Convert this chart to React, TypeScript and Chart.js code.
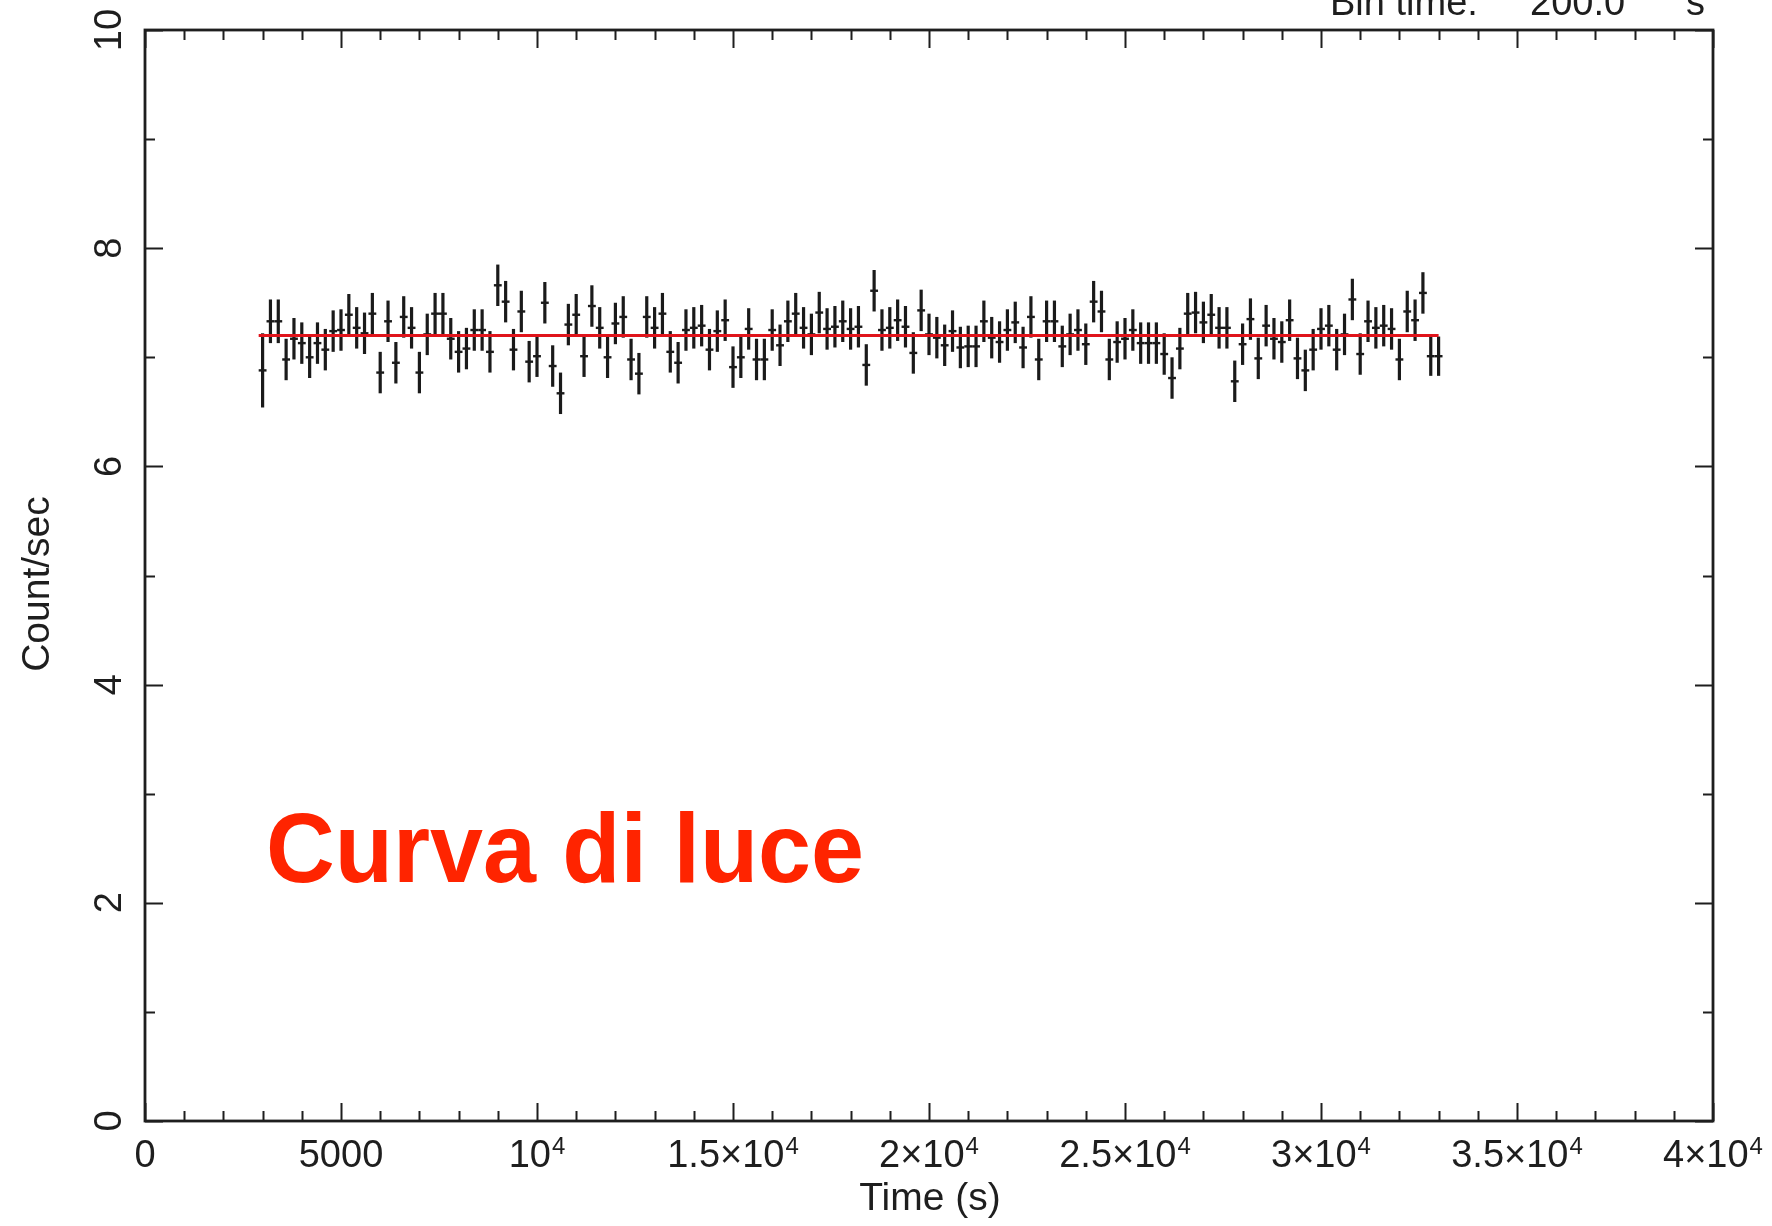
import React, { useEffect, useRef } from "react";
import { Chart, registerables } from "chart.js";

Chart.register(...registerables);

// Bin centres (s), bin time 200 s
const TIMES: number[] = [
  3000, 3200, 3400, 3600, 3800, 4000, 4200, 4400, 4600, 4800,
  5000, 5200, 5400, 5600, 5800, 6000, 6200, 6400, 6600, 6800,
  7000, 7200, 7400, 7600, 7800, 8000, 8200, 8400, 8600, 8800,
  9000, 9200, 9400, 9600, 9800, 10000, 10200, 10400, 10600, 10800,
  11000, 11200, 11400, 11600, 11800, 12000, 12200, 12400, 12600, 12800,
  13000, 13200, 13400, 13600, 13800, 14000, 14200, 14400, 14600, 14800,
  15000, 15200, 15400, 15600, 15800, 16000, 16200, 16400, 16600, 16800,
  17000, 17200, 17400, 17600, 17800, 18000, 18200, 18400, 18600, 18800,
  19000, 19200, 19400, 19600, 19800, 20000, 20200, 20400, 20600, 20800,
  21000, 21200, 21400, 21600, 21800, 22000, 22200, 22400, 22600, 22800,
  23000, 23200, 23400, 23600, 23800, 24000, 24200, 24400, 24600, 24800,
  25000, 25200, 25400, 25600, 25800, 26000, 26200, 26400, 26600, 26800,
  27000, 27200, 27400, 27600, 27800, 28000, 28200, 28400, 28600, 28800,
  29000, 29200, 29400, 29600, 29800, 30000, 30200, 30400, 30600, 30800,
  31000, 31200, 31400, 31600, 31800, 32000, 32200, 32400, 32600, 32800,
  33000,
];

// Count rate (count/sec)
const RATES: number[] = [
  6.88, 7.33, 7.33, 6.98, 7.17, 7.13, 7.0, 7.13, 7.07, 7.24,
  7.25, 7.39, 7.27, 7.22, 7.4, 6.86, 7.33, 6.95, 7.37, 7.27,
  6.86, 7.21, 7.4, 7.4, 7.17, 7.05, 7.08, 7.25, 7.25, 7.05,
  7.66, 7.51, 7.07, 7.42, 6.96, 7.01, 7.5, 6.92, 6.67, 7.3,
  7.39, 7.01, 7.47, 7.27, 7.0, 7.31, 7.37, 6.98, 6.85, 7.37,
  7.27, 7.4, 7.05, 6.95, 7.25, 7.27, 7.29, 7.07, 7.24, 7.34,
  6.91, 7.0, 7.26, 6.98, 6.98, 7.25, 7.11, 7.33, 7.4, 7.27,
  7.21, 7.41, 7.26, 7.28, 7.33, 7.26, 7.28, 6.93, 7.61, 7.25,
  7.27, 7.34, 7.28, 7.04, 7.43, 7.21, 7.18, 7.11, 7.24, 7.09,
  7.1, 7.1, 7.33, 7.18, 7.14, 7.25, 7.32, 7.09, 7.37, 6.98,
  7.33, 7.33, 7.1, 7.21, 7.25, 7.12, 7.51, 7.42, 6.98, 7.14,
  7.17, 7.25, 7.13, 7.13, 7.13, 7.03, 6.81, 7.08, 7.4, 7.41,
  7.32, 7.39, 7.27, 7.27, 6.78, 7.12, 7.35, 6.99, 7.29, 7.17,
  7.14, 7.34, 6.99, 6.88, 7.07, 7.26, 7.29, 7.07, 7.21, 7.53,
  7.03, 7.33, 7.27, 7.29, 7.26, 6.98, 7.42, 7.34, 7.59, 7.01,
  7.01,
];

// 1-sigma errors on the rate
const ERRORS: number[] = [
  0.34, 0.2, 0.2, 0.19, 0.19, 0.19, 0.19, 0.19, 0.19, 0.19,
  0.19, 0.19, 0.19, 0.19, 0.19, 0.19, 0.19, 0.19, 0.19, 0.19,
  0.19, 0.19, 0.19, 0.19, 0.19, 0.19, 0.19, 0.19, 0.19, 0.19,
  0.19, 0.19, 0.19, 0.19, 0.19, 0.19, 0.19, 0.19, 0.19, 0.19,
  0.19, 0.19, 0.19, 0.19, 0.19, 0.19, 0.19, 0.19, 0.19, 0.19,
  0.19, 0.19, 0.19, 0.19, 0.19, 0.19, 0.19, 0.19, 0.19, 0.19,
  0.19, 0.19, 0.19, 0.19, 0.19, 0.19, 0.19, 0.19, 0.19, 0.19,
  0.19, 0.19, 0.19, 0.19, 0.19, 0.19, 0.19, 0.19, 0.19, 0.19,
  0.19, 0.19, 0.19, 0.19, 0.19, 0.19, 0.19, 0.19, 0.19, 0.19,
  0.19, 0.19, 0.19, 0.19, 0.19, 0.19, 0.19, 0.19, 0.19, 0.19,
  0.19, 0.19, 0.19, 0.19, 0.19, 0.19, 0.19, 0.19, 0.19, 0.19,
  0.19, 0.19, 0.19, 0.19, 0.19, 0.19, 0.19, 0.19, 0.19, 0.19,
  0.19, 0.19, 0.19, 0.19, 0.19, 0.19, 0.19, 0.19, 0.19, 0.19,
  0.19, 0.19, 0.19, 0.19, 0.19, 0.19, 0.19, 0.19, 0.19, 0.19,
  0.19, 0.19, 0.19, 0.19, 0.19, 0.19, 0.19, 0.19, 0.19, 0.18,
  0.18,
];

const MEAN_RATE = 7.2;
const MEAN_SPAN: number[] = [2900, 33000];
const HALF_BIN = 100;

const X_RANGE: number[] = [0, 40000];
const Y_RANGE: number[] = [0, 10];
const X_MAJOR: number[] = [0, 5000, 10000, 15000, 20000, 25000, 30000, 35000, 40000];
const X_LABELS: string[][] = [
  ["0", ""], ["5000", ""], ["10", "4"], ["1.5×10", "4"], ["2×10", "4"],
  ["2.5×10", "4"], ["3×10", "4"], ["3.5×10", "4"], ["4×10", "4"],
];
const X_MINOR_STEP = 1000;
const Y_MAJOR: number[] = [0, 2, 4, 6, 8, 10];
const Y_LABELS: string[] = ["0", "2", "4", "6", "8", "10"];
const Y_MINOR_STEP = 1;

const X_TITLE = "Time (s)";
const Y_TITLE = "Count/sec";
const BIN_TEXT: string[] = ["Bin time:", "200.0", "s"];
const NOTE = "Curva di luce";

const FONT = '"Liberation Sans", Arial, Helvetica, sans-serif';
const INK = "#1e1e1e";

const decorPlugin = {
  id: "decor",
  beforeDatasetsDraw(chart: any) {
    const ctx = chart.ctx;
    const xs = chart.scales.x;
    const ys = chart.scales.y;
    ctx.save();
    ctx.strokeStyle = "#1a1a1a";
    ctx.lineCap = "butt";
    for (let i = 0; i < TIMES.length; i++) {
      const px = xs.getPixelForValue(TIMES[i]);
      const y1 = ys.getPixelForValue(RATES[i] - ERRORS[i]);
      const y2 = ys.getPixelForValue(RATES[i] + ERRORS[i]);
      ctx.lineWidth = 3.2;
      ctx.beginPath();
      ctx.moveTo(px, y1);
      ctx.lineTo(px, y2);
      ctx.stroke();
      const xa = xs.getPixelForValue(TIMES[i] - HALF_BIN);
      const xb = xs.getPixelForValue(TIMES[i] + HALF_BIN);
      const py = ys.getPixelForValue(RATES[i]);
      ctx.lineWidth = 2.4;
      ctx.beginPath();
      ctx.moveTo(xa, py);
      ctx.lineTo(xb, py);
      ctx.stroke();
    }
    ctx.restore();
  },
  afterDraw(chart: any) {
    const ctx = chart.ctx;
    const xs = chart.scales.x;
    const ys = chart.scales.y;
    const a = chart.chartArea;
    ctx.save();

    // ticks (inward, all four sides)
    ctx.strokeStyle = INK;
    ctx.lineWidth = 2;
    const majorLen = 18;
    const minorLen = 10;
    for (let v = X_RANGE[0]; v <= X_RANGE[1]; v += X_MINOR_STEP) {
      const px = Math.round(xs.getPixelForValue(v)) + 0.5;
      const len = X_MAJOR.includes(v) ? majorLen : minorLen;
      ctx.beginPath();
      ctx.moveTo(px, a.bottom);
      ctx.lineTo(px, a.bottom - len);
      ctx.moveTo(px, a.top);
      ctx.lineTo(px, a.top + len);
      ctx.stroke();
    }
    for (let v = Y_RANGE[0]; v <= Y_RANGE[1]; v += Y_MINOR_STEP) {
      const py = Math.round(ys.getPixelForValue(v)) + 0.5;
      const len = Y_MAJOR.includes(v) ? majorLen : minorLen;
      ctx.beginPath();
      ctx.moveTo(a.left, py);
      ctx.lineTo(a.left + len, py);
      ctx.moveTo(a.right, py);
      ctx.lineTo(a.right - len, py);
      ctx.stroke();
    }

    // frame
    ctx.lineWidth = 2.8;
    ctx.strokeStyle = INK;
    ctx.strokeRect(a.left, a.top, a.right - a.left, a.bottom - a.top);

    // x tick labels
    ctx.fillStyle = INK;
    ctx.textBaseline = "alphabetic";
    const mainFont = `38px ${FONT}`;
    const supFont = `24px ${FONT}`;
    X_MAJOR.forEach((v, i) => {
      const [main, sup] = X_LABELS[i];
      ctx.font = mainFont;
      const w1 = ctx.measureText(main).width;
      ctx.font = supFont;
      const w2 = sup ? ctx.measureText(sup).width + 1 : 0;
      const cx = xs.getPixelForValue(v);
      const x0 = cx - (w1 + w2) / 2;
      const base = 1167;
      ctx.textAlign = "left";
      ctx.font = mainFont;
      ctx.fillText(main, x0, base);
      if (sup) {
        ctx.font = supFont;
        ctx.fillText(sup, x0 + w1 + 1, base - 13);
      }
    });

    // y tick labels (rotated)
    ctx.font = mainFont;
    ctx.textAlign = "center";
    Y_MAJOR.forEach((v, i) => {
      const py = ys.getPixelForValue(v);
      ctx.save();
      ctx.translate(121, py);
      ctx.rotate(-Math.PI / 2);
      ctx.fillText(Y_LABELS[i], 0, 0);
      ctx.restore();
    });

    // axis titles
    ctx.font = `39px ${FONT}`;
    ctx.textAlign = "center";
    ctx.fillText(X_TITLE, 930, 1210);
    ctx.save();
    ctx.translate(49, 584);
    ctx.rotate(-Math.PI / 2);
    ctx.fillText(Y_TITLE, 0, 0);
    ctx.restore();

    // bin time annotation (partly cut at top)
    ctx.font = `38px ${FONT}`;
    ctx.textAlign = "left";
    ctx.fillText(BIN_TEXT[0], 1330, 15);
    ctx.fillText(BIN_TEXT[1], 1530, 15);
    ctx.fillText(BIN_TEXT[2], 1686, 15);

    // red note
    ctx.font = `bold 96px ${FONT}`;
    ctx.fillStyle = "#ff2400";
    ctx.textAlign = "left";
    const nw = ctx.measureText(NOTE).width;
    const target = 598;
    ctx.save();
    ctx.translate(266, 882);
    ctx.scale(target / nw, 1.03);
    ctx.fillText(NOTE, 0, 0);
    ctx.restore();

    ctx.restore();
  },
};

export default function App() {
  const ref = useRef<HTMLCanvasElement | null>(null);

  useEffect(() => {
    if (!ref.current) return;
    const points = TIMES.map((t, i) => ({ x: t, y: RATES[i] }));
    const meanLine = MEAN_SPAN.map((t) => ({ x: t, y: MEAN_RATE }));
    const chart = new Chart(ref.current, {
      type: "scatter",
      data: {
        datasets: [
          {
            type: "line",
            label: "mean",
            data: meanLine,
            borderColor: "#e0141b",
            borderWidth: 2.8,
            pointRadius: 0,
            fill: false,
            order: 0,
          } as any,
          {
            label: "rate",
            data: points,
            pointRadius: 0,
            showLine: false,
            order: 1,
          } as any,
        ],
      },
      options: {
        animation: false,
        responsive: false,
        devicePixelRatio: 1,
        layout: { padding: { left: 145, right: 59, top: 30, bottom: 105 } },
        scales: {
          x: { type: "linear", min: X_RANGE[0], max: X_RANGE[1], display: false },
          y: { type: "linear", min: Y_RANGE[0], max: Y_RANGE[1], display: false },
        },
        plugins: {
          legend: { display: false },
          tooltip: { enabled: false },
        },
      },
      plugins: [decorPlugin],
    });
    return () => chart.destroy();
  }, []);

  return (
    <div style={{ position: "fixed", left: 0, top: 0, width: 1772, height: 1226, background: "#fff" }}>
      <canvas ref={ref} width={1772} height={1226} style={{ display: "block" }} />
    </div>
  );
}
